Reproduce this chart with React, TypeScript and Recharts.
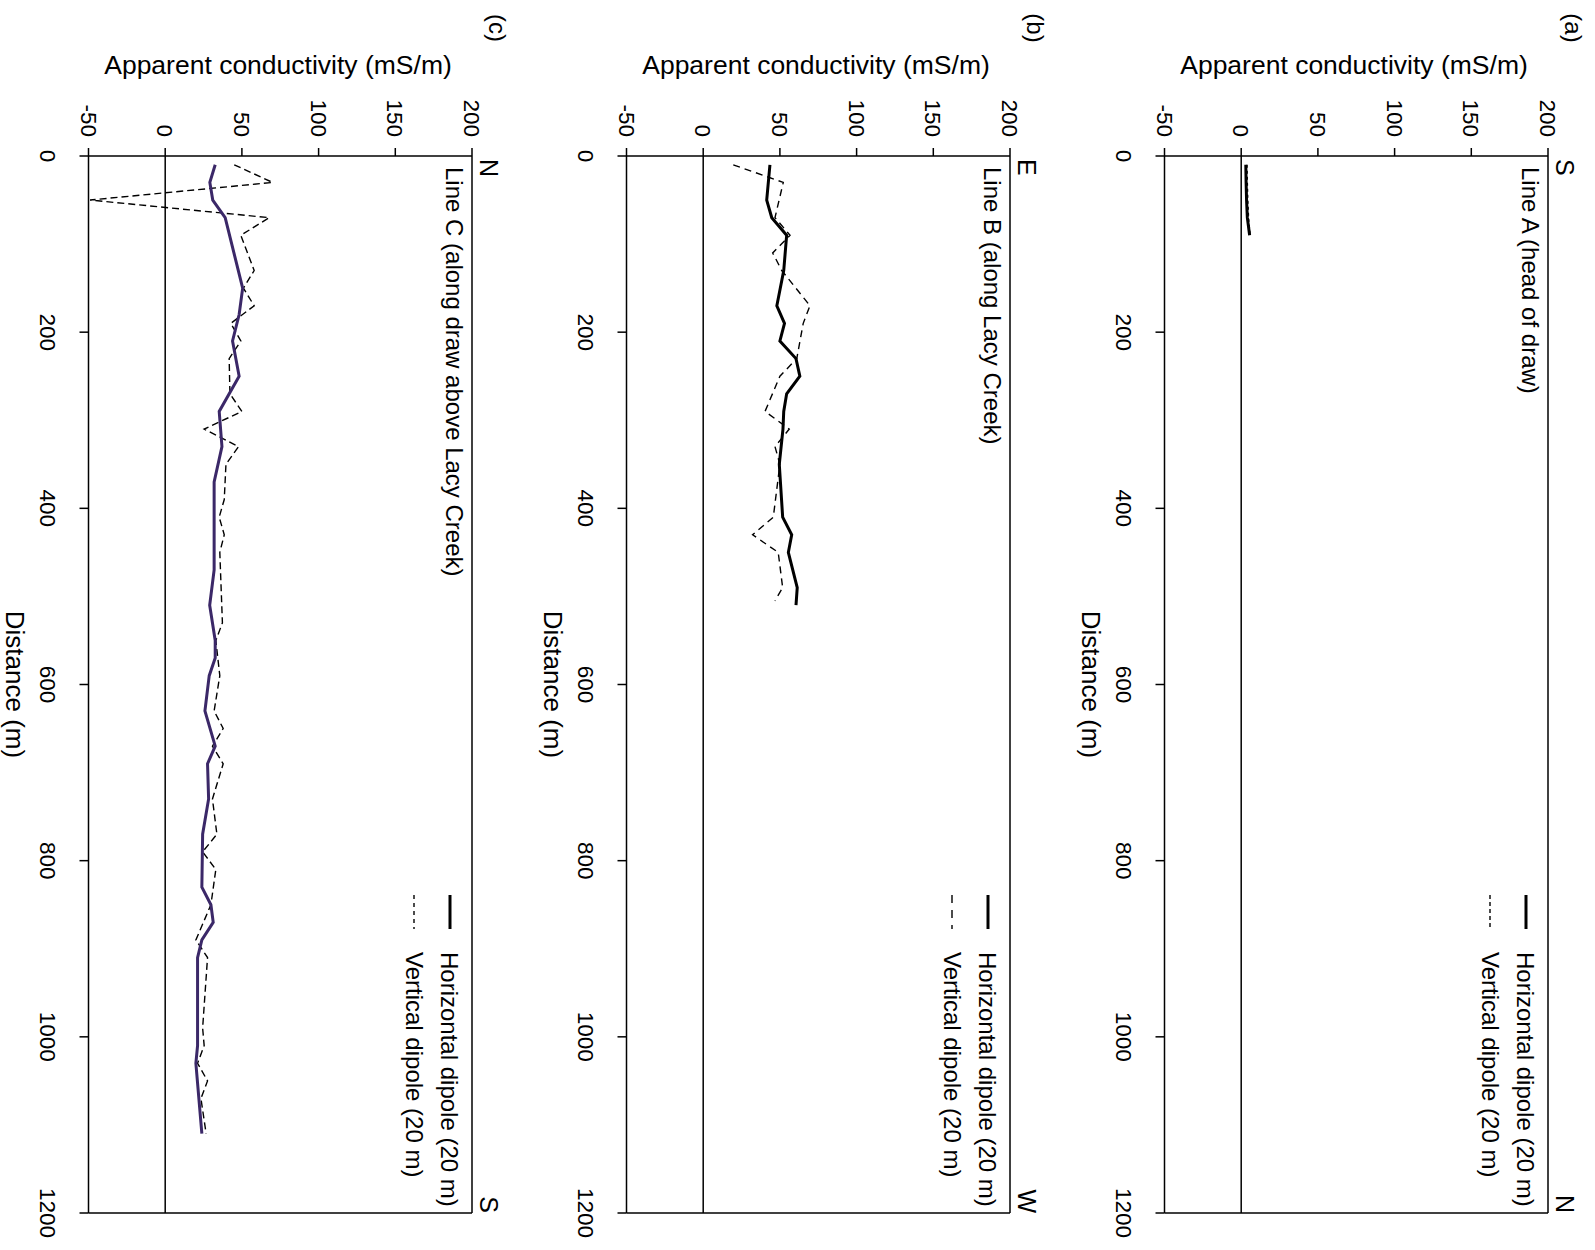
import { LineChart, Line, XAxis, YAxis, ReferenceLine } from 'recharts';

// distance stations (m) and apparent conductivity (mS/m)
const lineADistH = [10, 30, 50, 70, 90];
const lineAHoriz = [3, 3.2, 3.5, 4, 5.5];
const lineADistV = [10, 30, 50, 70, 90];
const lineAVert = [3.8, 4, 4.3, 4.8, 5.8];

const lineBDistH = [10, 50, 70, 90, 130, 170, 190, 210, 230, 250, 270, 290, 310, 350, 410, 430, 450, 490, 510];
const lineBHoriz = [43.5, 41.4, 44.7, 54.4, 52.5, 48, 53, 50, 60.5, 63, 54.4, 52.5, 52, 49.6, 51.8, 57.7, 55.5, 61.3, 60.5];
const lineBDistV = [10, 30, 70, 90, 110, 130, 170, 190, 230, 250, 290, 310, 330, 350, 410, 430, 450, 490, 505];
const lineBVert = [19.6, 52.2, 46.8, 56.6, 45.3, 51.2, 69.6, 65.2, 61, 50, 40.3, 56.1, 46.8, 50, 45.7, 32.2, 48.9, 51.8, 46.8];

const lineCDistH = [10, 30, 50, 70, 150, 180, 210, 250, 290, 330, 370, 470, 510, 550, 570, 590, 630, 670, 690, 730, 770, 830, 850, 870, 890, 910, 1010, 1030, 1110];
const lineCHoriz = [32.6, 29.1, 31, 39.1, 50.5, 48.2, 43.9, 48.2, 35.2, 37, 31.9, 31.9, 29, 32.6, 32.6, 28.7, 25.9, 32.6, 27.6, 28.3, 24.4, 23.9, 29.8, 31.3, 23.9, 21.1, 21.1, 20, 23.9];
const lineCDistV = [10, 30, 50, 70, 90, 130, 150, 170, 190, 210, 230, 270, 290, 310, 330, 350, 390, 410, 430, 450, 530, 550, 590, 630, 650, 670, 690, 730, 770, 790, 810, 850, 890, 910, 950, 990, 1010, 1030, 1050, 1070, 1110];
const lineCVert = [45, 70, -49, 67.8, 49.3, 58, 51, 58, 42.8, 49.3, 41.7, 42.2, 50, 25.4, 47.8, 39.6, 38.5, 35.2, 38.5, 35.6, 37.3, 33, 35.6, 31.9, 37.8, 30.8, 37.8, 30.8, 33.7, 24.4, 33, 29.8, 20, 27.6, 26, 24.4, 25.4, 21.1, 27.6, 23.3, 26.7];

const distTicks = [0, 200, 400, 600, 800, 1000, 1200];
const condTicks = [-50, 0, 50, 100, 150, 200];

const FONT = '"Liberation Sans", Arial, sans-serif';
const toPoints = (d: number[], v: number[]) => d.map((x, i) => ({ d: x, v: v[i] }));

interface PanelProps {
  top: number;
  letter: string;
  name: string;
  startDir: string;
  endDir: string;
  horiz: { d: number; v: number }[];
  vert: { d: number; v: number }[];
  horizColor: string;
  vertDash: string;
  legendDash: string;
}

function Panel({ top, letter, name, startDir, endDir, horiz, vert, horizColor, vertDash, legendDash }: PanelProps) {
  return (
    <div style={{ position: 'absolute', left: 0, top, width: 1250, height: 537 }}>
      <LineChart width={1250} height={480} margin={{ top: 40, right: 37, bottom: 0, left: 0 }}>
        <XAxis
          type="number"
          dataKey="d"
          domain={[0, 1200]}
          ticks={distTicks}
          interval={0}
          height={56.5}
          tickSize={9}
          tickMargin={24}
          axisLine={{ stroke: '#000', strokeWidth: 1.5 }}
          tickLine={{ stroke: '#000', strokeWidth: 1.5 }}
          tick={{ fontSize: 22.5, fill: '#000', fontFamily: FONT }}
        />
        <YAxis
          type="number"
          domain={[-50, 200]}
          ticks={condTicks}
          interval={0}
          width={156}
          tickSize={8}
          tickMargin={11}
          axisLine={{ stroke: '#000', strokeWidth: 1.5 }}
          tickLine={{ stroke: '#000', strokeWidth: 1.5 }}
          tick={{ fontSize: 22.5, fill: '#000', fontFamily: FONT }}
        />
        <ReferenceLine y={200} stroke="#000" strokeWidth={1.5} />
        <ReferenceLine x={1200} stroke="#000" strokeWidth={1.5} />
        <ReferenceLine y={0} stroke="#000" strokeWidth={1.5} />
        <Line data={vert} dataKey="v" type="linear" dot={false} stroke="#000" strokeWidth={1.4}
          strokeDasharray={vertDash} isAnimationActive={false} />
        <Line data={horiz} dataKey="v" type="linear" dot={false} stroke={horizColor} strokeWidth={3}
          isAnimationActive={false} />
      </LineChart>
      <svg width={1250} height={537} style={{ position: 'absolute', left: 0, top: 0, pointerEvents: 'none' }}
        fontFamily={FONT} fill="#000">
        <text x={28} y={23} fontSize={24} textAnchor="middle">{letter}</text>
        <text x={74} y={234} fontSize={26.5} textAnchor="middle" transform="rotate(-90 74 234)">
          Apparent conductivity (mS/m)
        </text>
        <text x={159} y={32} fontSize={25}>{startDir}</text>
        <text x={1213} y={32} fontSize={25} textAnchor="end">{endDir}</text>
        <text x={167} y={66} fontSize={24}>{name}</text>
        <line x1={895} x2={929} y1={62} y2={62} stroke="#000" strokeWidth={3} />
        <text x={952} y={71} fontSize={24}>Horizontal dipole (20 m)</text>
        <line x1={895} x2={929} y1={98} y2={98} stroke="#000" strokeWidth={1.4} strokeDasharray={legendDash} />
        <text x={952} y={106} fontSize={24}>Vertical dipole (20 m)</text>
        <text x={684.5} y={506} fontSize={26} textAnchor="middle">Distance (m)</text>
      </svg>
    </div>
  );
}

export default function App() {
  return (
    <div style={{ position: 'absolute', left: 0, top: 0, width: 1595, height: 1250, overflow: 'hidden', background: '#fff' }}>
      <div style={{
        position: 'absolute', left: 0, top: 0, width: 1250, height: 1595,
        transformOrigin: '0 0', transform: 'translate(1595px, 0) rotate(90deg)',
      }}>
        <Panel top={7.3} letter="(a)" name="Line A (head of draw)" startDir="S" endDir="N"
          horiz={toPoints(lineADistH, lineAHoriz)} vert={toPoints(lineADistV, lineAVert)}
          horizColor="#000" vertDash="3 3" legendDash="4 3" />
        <Panel top={545} letter="(b)" name="Line B (along Lacy Creek)" startDir="E" endDir="W"
          horiz={toPoints(lineBDistH, lineBHoriz)} vert={toPoints(lineBDistV, lineBVert)}
          horizColor="#000" vertDash="7 5" legendDash="8 7" />
        <Panel top={1082.5} letter="(c)" name="Line C (along draw above Lacy Creek)" startDir="N" endDir="S"
          horiz={toPoints(lineCDistH, lineCHoriz)} vert={toPoints(lineCDistV, lineCVert)}
          horizColor="#3b2868" vertDash="7 4" legendDash="4 4" />
      </div>
    </div>
  );
}
